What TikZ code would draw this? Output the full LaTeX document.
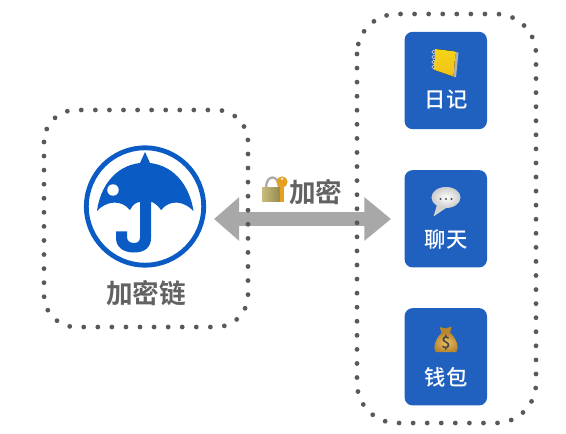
\documentclass[tikz,border=0pt]{standalone}
\usepackage{fontspec}
\usepackage{xcolor}
\usetikzlibrary{arrows.meta,positioning}
\newfontfamily\cjk{Noto Sans CJK SC Medium}
\newfontfamily\cjkbold{Noto Sans CJK SC Bold}
\definecolor{appblue}{HTML}{2060BE}
\definecolor{iconblue}{HTML}{0A5CC4}
\definecolor{labelgray}{HTML}{626262}
\definecolor{dotgray}{HTML}{595959}
\definecolor{arrowgray}{HTML}{A8A8A8}
\definecolor{bookgold}{HTML}{F2CB1D}
\definecolor{bagtan}{HTML}{EBC063}
\definecolor{bagdark}{HTML}{B8862F}
\definecolor{keygold}{HTML}{E5A11F}
\definecolor{locktan}{HTML}{C0B066}

\begin{document}
\begin{tikzpicture}[
    x=0.75pt, y=-0.75pt,
    group/.style={draw=dotgray, line width=3.6pt, line cap=round, dash pattern=on 0pt off 10.55pt},
    appbox/.style={fill=appblue, rounded corners=6pt, minimum width=61.8pt, minimum height=73pt, inner sep=0pt},
    applabel/.style={text=white, font=\cjk\fontsize{16pt}{18pt}\selectfont, inner sep=0pt},
    graylabel/.style={text=labelgray, font=\cjkbold\fontsize{20pt}{22pt}\selectfont, inner sep=0pt},
    link/.style={draw=arrowgray, line width=10.8pt, {Triangle[length=18.8pt,width=31.5pt]}-{Triangle[length=20pt,width=31.5pt]}}
]
\useasboundingbox (0,0) rectangle (566,434);

% Link between the two groups
\coordinate (linkleft) at (214,219);
\coordinate (linkright) at (391,219);
\draw[link] (linkleft) -- (linkright);

% Dotted groups
\draw[group, rounded corners=24pt] (44,110) rectangle (248,327);
\draw[group, rounded corners=30pt] (357,14) rectangle (536,423);

% Keychain icon
\node[circle, draw=iconblue, line width=3.6pt, minimum size=88pt, inner sep=0pt] (ring) at (145,206.5) {};
\fill[iconblue] (145,152) -- (150,163) .. controls (176,166) and (190,188) .. (193.5,211)
    .. controls (184,201) and (170,199) .. (161,210) .. controls (156,203) and (152,202) .. (151,202)
    -- (151,238) .. controls (151,248) and (144,252.5) .. (134,252.5) .. controls (123,252.5) and (116,247) .. (116,238)
    -- (116,231.5) -- (127,231.5) -- (127,237) .. controls (127,241) and (130,243) .. (134,243)
    .. controls (138,243) and (140,241) .. (140,237) -- (140,202)
    .. controls (137,202) and (133,204) .. (130,210) .. controls (121,199) and (106,201) .. (97,211)
    .. controls (100,188) and (114,166) .. (140,163) -- cycle;
\fill[white] (113,190) circle (4.3pt);
\node[graylabel] (keychain) at (146,293) {加密链};

% Lock with key
\draw[gray!65, line width=1.8pt] (266,188) .. controls (266,174) and (279,174) .. (279,188);
\fill[left color=locktan!85!white, right color=locktan!75!black] (262,187.5) rectangle (282,201.5);
\fill[keygold] (282,182) circle (4.2pt);
\fill[keygold] (280,184) rectangle (284.2,202.5);
\fill[white] (282,178.8) circle (0.9pt);
\node[graylabel, anchor=west] (encrypt) at (289,192) {加密};

% Diary
\node[appbox] (diary) at (445.8,80.5) {};
\fill[gray!60] (438,50) -- (458.5,52.5) -- (456,77.5) -- (452,76) -- cycle;
\fill[top color=bookgold!80!yellow, bottom color=bookgold!85!orange] (435,49) -- (455.5,51.5) -- (453.5,76.5) -- (434.5,70) -- cycle;
\foreach \y in {52,57,62,67} {
    \draw[gray!45, line width=0.6pt] (433.7,\y) circle (1.4pt);
}
\node[applabel] (diarylabel) at (446,100) {日记};

% Chat
\node[appbox] (chat) at (445.8,218.8) {};
\fill[gray!35] (437,205) -- (433.5,216.5) -- (446,208) -- cycle;
\shade[inner color=white, outer color=gray!40] (446,197.5) ellipse (10.9pt and 7.9pt);
\foreach \x in {440.5,446,451.5} {
    \fill[black!70] (\x,199) circle (0.9pt);
}
\node[applabel] (chatlabel) at (446,239) {聊天};

% Wallet
\node[appbox] (wallet) at (445.8,356.8) {};
\fill[bagdark] (442,333.5) -- (439.5,327) -- (445.5,328.5) -- (451.5,326.5) -- (450,333.5) -- cycle;
\shade[inner color=bagtan, outer color=bagdark] (441.5,333) .. controls (434,340) and (433,350) .. (436,352)
    -- (456,352) .. controls (459,350) and (458,340) .. (450.5,333) -- cycle;
\node[text=black!75, font=\cjk\fontsize{12pt}{13pt}\selectfont, inner sep=0pt] (dollar) at (445.8,343) {\$};
\node[applabel] (walletlabel) at (446,377) {钱包};

\end{tikzpicture}
\end{document}
